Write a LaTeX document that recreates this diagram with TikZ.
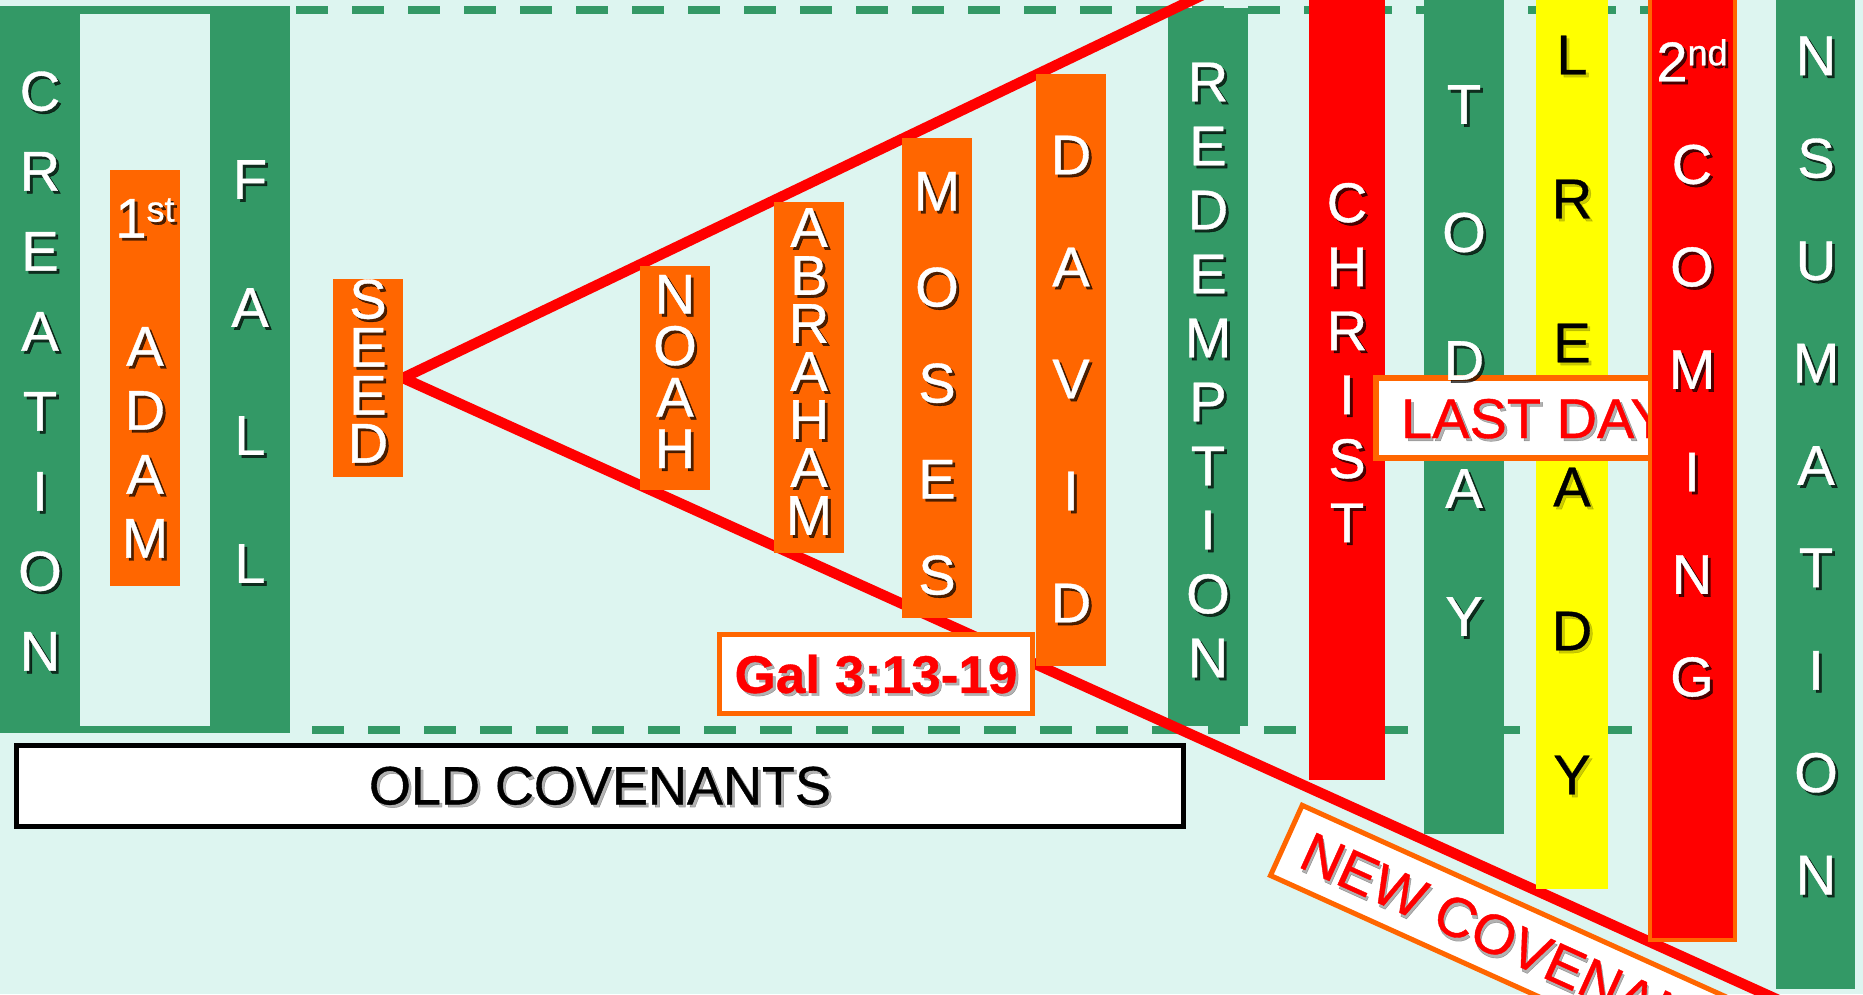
\documentclass[tikz,border=0pt]{standalone}
\usepackage{fontspec}
\setmainfont{Liberation Sans}[FakeBold=0.7]
\definecolor{bgc}{RGB}{221,245,240}
\definecolor{grn}{RGB}{51,153,102}
\definecolor{org}{RGB}{255,102,0}
\definecolor{rd}{RGB}{255,0,0}
\definecolor{yel}{RGB}{255,255,0}
\pgfdeclarelayer{back}
\pgfdeclarelayer{mid}
\pgfsetlayers{back,mid,main}
\tikzset{
  colbox/.style={rectangle, inner sep=0pt, outer sep=0pt, anchor=north west},
  vt/.style={inner sep=0pt, outer sep=0pt, align=center},
  covline/.style={draw=rd, line width=10.5pt},
  dashln/.style={draw=grn, line width=8pt, dash pattern=on 31.5pt off 24.5pt},
  framebox/.style={rectangle, fill=white, inner sep=0pt, outer sep=0pt, anchor=north west},
  big/.style={font=\fontsize{56}{#1}\selectfont},
}
% name, colour, x, y, width, height
\newcommand\mkcol[6]{\node[colbox, fill=#2, minimum width=#5pt, minimum height=#6pt] (#1) at (#3,#4) {};}
% [shadow opacity] name, options, position, text
\newcommand\shtext[5][0.7]{%
  \node[vt,#3,text=black,text opacity=#1,xshift=2.8pt,yshift=-2.8pt] (#2-sh) at (#4) {#5};
  \node[vt,#3] (#2) at (#4) {#5};}
\newcommand\sups[1]{\raisebox{16pt}{\fontsize{36}{36}\selectfont #1}}
\begin{document}
\begin{tikzpicture}[x=1pt,y=-1pt]
\useasboundingbox (0,0) rectangle (1863,994);
\begin{pgfonlayer}{back}
  \fill[bgc] (0,0) rectangle (1863,994);
  \coordinate (dtl) at (296,10);
  \coordinate (dtr) at (1680,10);
  \coordinate (dbl) at (312,729.5);
  \coordinate (dbr) at (1640,729.5);
  \draw[dashln] (dtl) -- (dtr);
  \draw[dashln] (dbl) -- (dbr);
  \mkcol{redemption}{grn}{1168}{8}{80}{718}
\end{pgfonlayer}

% left frame
\mkcol{creation}{grn}{0}{6}{80}{727}
\mkcol{fall}{grn}{210}{6}{80}{727}
\fill[grn] (80,6) rectangle (210,14);
\fill[grn] (80,726) rectangle (210,733);

% old covenant boxes
\mkcol{adam}{org}{110}{170}{70}{416}
\mkcol{seed}{org}{333}{279}{70}{198}
\mkcol{noah}{org}{640}{266}{70}{224}
\mkcol{abraham}{org}{774}{202}{70}{351}
\mkcol{moses}{org}{902}{138}{70}{480}
\mkcol{david}{org}{1036}{74}{70}{592}

% red lines
\begin{pgfonlayer}{mid}
  \coordinate (upEnd) at (1213,-10);
  \coordinate (lowEnd) at (1900,1055);
  \draw[covline] (upEnd) -- (seed.east) -- (lowEnd);
\end{pgfonlayer}

% right columns
\mkcol{christ}{rd}{1309}{0}{76}{780}
\mkcol{today}{grn}{1424}{0}{80}{834}
\mkcol{lready}{yel}{1536}{0}{72}{889}
\node[framebox, draw=org, line width=6pt, minimum width=276pt, minimum height=80pt] (lastday) at (1376,378) {};
\mkcol{nsum}{grn}{1776}{0}{79}{989}

% label boxes
\node[framebox, draw=org, line width=5pt, minimum width=313pt, minimum height=79pt] (gal) at (719.5,634.5) {};
\node[framebox, draw=black, line width=5pt, minimum width=1167pt, minimum height=80.5pt] (old) at (16.5,745.5) {};
\node[framebox, draw=org, line width=5pt, rotate=-24.32, minimum height=77pt, inner xsep=20pt, font=\fontsize{56}{56}\selectfont] (newcov) at (1302.2,805.3) {\phantom{NEW COVENANT}};

% vertical texts
\shtext{creationT}{text=white, big=80}{40,371}{C\\R\\E\\A\\T\\I\\O\\N}
\shtext{adamT}{text=white, big=64}{145,378}{1\sups{st}\\[64pt]A\\D\\A\\M}
\shtext{fallT}{text=white, big=128}{250,371.5}{F\\A\\L\\L}
\shtext{seedT}{text=white, big=48}{368,371}{S\\E\\E\\D}
\shtext{noahT}{text=white, big=51.5}{675,371.5}{N\\O\\A\\H}
\shtext{abrahamT}{text=white, big=48}{809,371.5}{A\\B\\R\\A\\H\\A\\M}
\shtext{mosesT}{text=white, big=96}{937,383.5}{M\\O\\S\\E\\S}
\shtext{davidT}{text=white, big=112}{1071,379}{D\\A\\V\\I\\D}
\shtext{redemptionT}{text=white, big=64}{1208,370}{R\\E\\D\\E\\M\\P\\T\\I\\O\\N}
\shtext{christT}{text=white, big=64}{1347,362.5}{C\\H\\R\\I\\S\\T}
\shtext{todayT}{text=white, big=128}{1464,360.5}{T\\O\\D\\A\\Y}
\shtext[0.2]{lreadyT}{text=black, big=144}{1572,415}{L\\R\\E\\A\\D\\Y}
\shtext[0.3]{lastdayT}{text=rd, big=56, anchor=base west}{1401,438}{LAST DAY}
% 2nd coming column is drawn over the LAST DAY box
\node[colbox, fill=rd, draw=org, line width=4pt, minimum width=85pt, minimum height=950pt] (coming) at (1650,-10) {};
\shtext{comingT}{text=white, big=102.5}{1692,368}{2\sups{nd}\\C\\O\\M\\I\\N\\G}
\shtext{nsumT}{text=white, big=102.4}{1816,465.5}{N\\S\\U\\M\\A\\T\\I\\O\\N}

% box texts
\shtext[0.3]{galT}{text=rd, font=\fontsize{53}{53}\selectfont\bfseries}{gal.center}{Gal 3:13-19}
\shtext[0.3]{oldT}{text=black, font=\fontsize{54}{54}\selectfont}{old.center}{OLD COVENANTS}
\shtext[0.3]{newcovT}{text=rd, rotate=-24.32, font=\fontsize{56}{56}\selectfont}{newcov.center}{NEW COVENANT}
\end{tikzpicture}
\end{document}
